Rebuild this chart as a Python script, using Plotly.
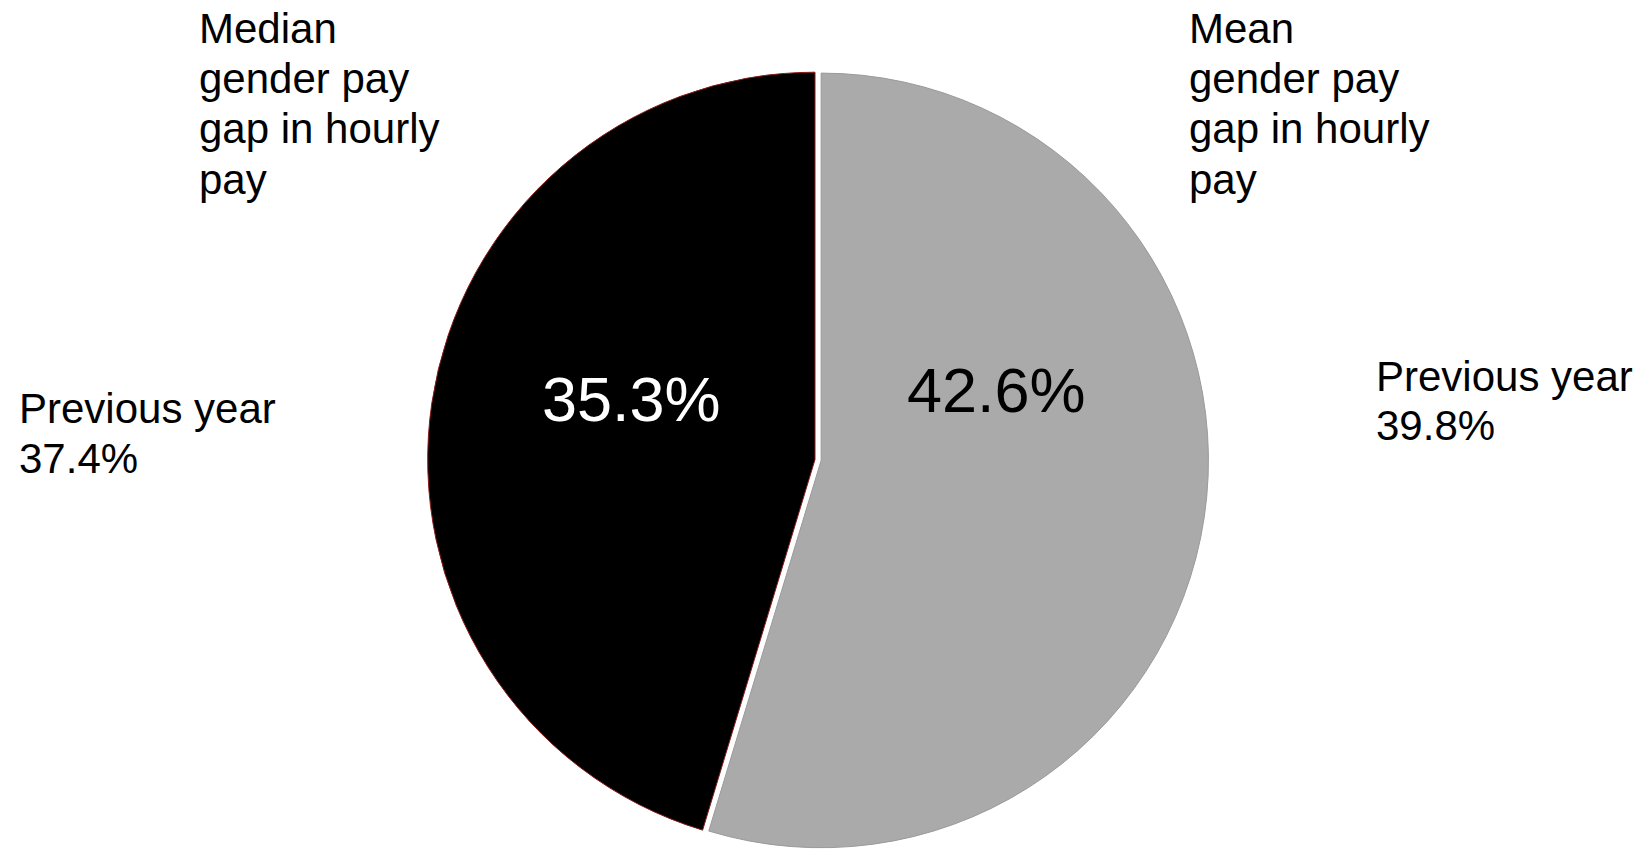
import plotly.graph_objects as go

# Data
categories = ["Median gender pay gap in hourly pay", "Mean gender pay gap in hourly pay"]
values = [35.3, 42.6]
previous_year = [37.4, 39.8]
label_lines = [["Median", "gender pay", "gap in hourly", "pay"],
               ["Mean", "gender pay", "gap in hourly", "pay"]]

W, H = 1643, 853
FONT = "Liberation Sans, Arial, sans-serif"

# first slice (median) ends at 12 o'clock, extending counterclockwise from there
start_rot = -values[0] / sum(values) * 360

fig = go.Figure()
fig.add_trace(go.Pie(
    labels=categories,
    values=values,
    sort=False,
    direction="clockwise",
    rotation=start_rot,
    marker=dict(colors=["#000000", "#aaaaaa"],
                line=dict(color=["#8b1a1a", "#9a9a9a"], width=1)),
    pull=[0, 0.016],
    textinfo="none",
    hoverinfo="label+value",
    showlegend=False,
    domain=dict(x=[(815 - 396) / W, (815 + 396) / W], y=[0, 1]),
))

def py(ypix):
    t, b = 66, 0
    return 1 - (ypix - t) / (H - t - b)

def px(xpix):
    return xpix / W

ann = []
val_pos = [(631, 399, "white"), (997, 390, "black")]
for v, (x, y, c) in zip(values, val_pos):
    ann.append(dict(text=f"{v}%", x=px(x), y=py(y), xref="paper", yref="paper",
                    xanchor="center", yanchor="middle", showarrow=False,
                    font=dict(family=FONT, size=63, color=c)))

label_x = [197, 1187]
line_centers = [28, 78.3, 128.6, 179]
for lines, x in zip(label_lines, label_x):
    for ln, yc in zip(lines, line_centers):
        ann.append(dict(text=ln, x=px(x), y=py(yc), xref="paper", yref="paper",
                        xanchor="left", yanchor="middle", showarrow=False,
                        font=dict(family=FONT, size=42, color="black")))

prev_pos = [(17, 408), (1374, 376)]
for pv, (x, y) in zip(previous_year, prev_pos):
    for i, ln in enumerate(["Previous year", f"{pv}%"]):
        ann.append(dict(text=ln, x=px(x), y=py(y + 50 * i), xref="paper", yref="paper",
                        xanchor="left", yanchor="middle", showarrow=False,
                        font=dict(family=FONT, size=42, color="black")))

fig.update_layout(
    width=W, height=H,
    margin=dict(l=0, r=0, t=66, b=0),
    paper_bgcolor="white",
    plot_bgcolor="white",
    annotations=ann,
)

fig.write_html("out.html")
